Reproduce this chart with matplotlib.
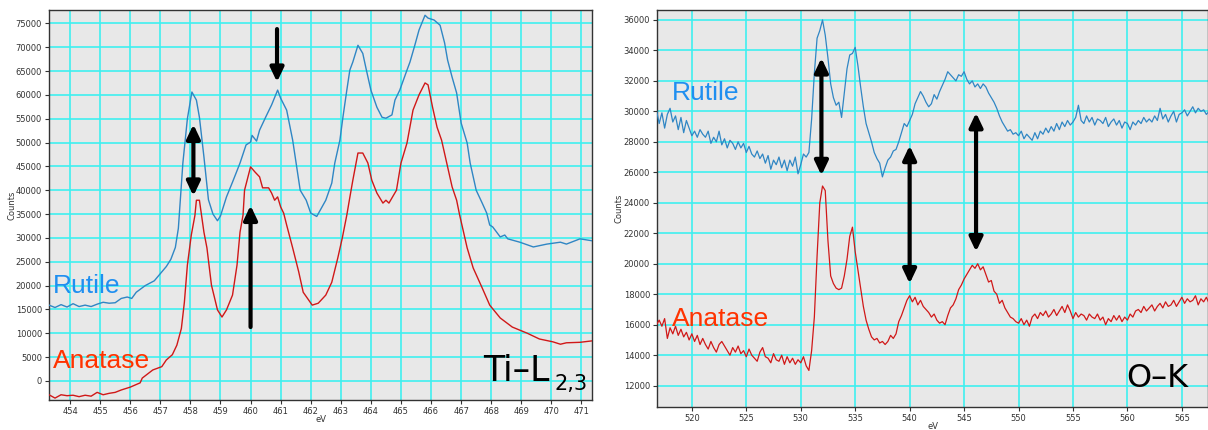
import numpy as np
import matplotlib
matplotlib.use("Agg")
import matplotlib.pyplot as plt

# --- Ti-L2,3 edge (left panel) ---
ti_rutile_ev = [453.3, 453.5, 453.7, 453.9, 454.1, 454.3, 454.5, 454.7, 454.9, 455.1, 455.3, 455.5,
                455.7, 455.9, 456.05, 456.2, 456.5, 456.8, 457.0, 457.2, 457.35, 457.5, 457.6, 457.75,
                457.9, 458.05, 458.2, 458.3, 458.45, 458.6, 458.75, 458.9, 459.0, 459.2, 459.4, 459.65,
                459.85, 460.0, 460.05, 460.2, 460.3, 460.5, 460.7, 460.9, 461.0, 461.2, 461.4, 461.6,
                461.65, 461.85, 462.0, 462.2, 462.5, 462.7, 462.8, 462.97, 463.07, 463.2, 463.3, 463.4,
                463.57, 463.73, 463.85, 464.0, 464.2, 464.37, 464.5, 464.7, 464.8, 464.96, 465.2, 465.3,
                465.46, 465.6, 465.8, 465.9, 466.1, 466.3, 466.45, 466.55, 466.7, 466.85, 467.0, 467.2,
                467.3, 467.5, 467.7, 467.85, 467.95, 468.05, 468.3, 468.45, 468.55, 468.95, 469.4, 469.85,
                470.3, 470.5, 470.95, 471.35]
ti_rutile_counts = [15900, 15400, 16000, 15500, 16200, 15600, 15900, 15600, 16100, 16500, 16300, 16400,
                    17300, 17600, 17300, 18600, 20000, 21000, 22500, 24000, 25500, 28000, 32000, 45700,
                    55000, 60600, 58900, 55300, 47000, 38000, 35000, 33600, 34600, 38600, 41700, 45700,
                    49500, 50100, 51500, 50300, 52600, 55300, 57900, 61000, 59300, 56800, 50500, 42100,
                    40000, 37900, 35200, 34500, 37900, 41500, 45700, 50500, 55300, 61000, 65200, 66900,
                    70400, 68700, 65200, 61000, 57400, 55300, 55100, 55800, 58900, 61000, 65200, 66900,
                    70400, 73600, 76700, 76100, 75700, 74600, 70900, 67300, 63700, 60400, 54100, 49900,
                    45700, 40000, 37300, 35200, 32700, 32300, 30200, 30600, 29800, 29100, 28100, 28700,
                    29100, 28700, 29800, 29400]

ti_anatase_ev = [453.3, 453.5, 453.7, 453.9, 454.1, 454.3, 454.5, 454.7, 454.9, 455.1, 455.3, 455.5,
                 455.7, 456.0, 456.33, 456.4, 456.75, 457.05, 457.2, 457.4, 457.55, 457.7, 457.8, 457.9,
                 458.03, 458.15, 458.2, 458.3, 458.45, 458.55, 458.7, 458.9, 459.05, 459.2, 459.4, 459.55,
                 459.65, 459.75, 459.8, 460.0, 460.15, 460.3, 460.4, 460.6, 460.7, 460.8, 460.9, 461.0,
                 461.1, 461.2, 461.4, 461.6, 461.75, 462.05, 462.25, 462.5, 462.7, 462.9, 463.05, 463.2,
                 463.3, 463.4, 463.57, 463.73, 463.9, 464.03, 464.2, 464.4, 464.5, 464.6, 464.85, 465.0,
                 465.2, 465.4, 465.6, 465.8, 465.9, 466.05, 466.2, 466.35, 466.5, 466.7, 466.85, 466.95,
                 467.2, 467.4, 467.7, 467.95, 468.3, 468.7, 469.2, 469.6, 470.05, 470.3, 470.5, 470.95,
                 471.35]
ti_anatase_counts = [-2900, -3600, -2900, -3100, -3000, -3300, -3000, -3200, -2400, -2900, -2600, -2400,
                     -1900, -1300, -400, 600, 2300, 3000, 4400, 5500, 7500, 11000, 16500, 24300,
                     30600, 34700, 37900, 37900, 31200, 27900, 20100, 14900, 13400, 14900, 18000, 24300,
                     31200, 34800, 40000, 44900, 43800, 42800, 40500, 40500, 39400, 37900, 38600, 36500,
                     35200, 32700, 27900, 22900, 18600, 15900, 16300, 18000, 20700, 25800, 30000, 34800,
                     38500, 42100, 47800, 47800, 45700, 42100, 39400, 37300, 37900, 37300, 40000, 45700,
                     49900, 56800, 60000, 62500, 62100, 57400, 53200, 50500, 46300, 40700, 37900, 34800,
                     27900, 23700, 19500, 15900, 13200, 11300, 10000, 8800, 8200, 7700, 8000, 8100,
                     8400]

# --- O-K edge (right panel), sampled every 0.25 eV from 516.75 eV ---
ok_rutile_counts = [30100,
                    29200, 29900, 28900, 29800, 30200, 29300, 29700, 28800,
                    29600, 28600, 29400, 28900, 28400, 28700, 28300, 28800,
                    28500, 28300, 28700, 27900, 28300, 28000, 28700, 27800,
                    28200, 27600, 28100, 27900, 27500, 28000, 27600, 27900,
                    27300, 27700, 27200, 27000, 27400, 26900, 27200, 26600,
                    27100, 26200, 26800, 26500, 27000, 26300, 26800, 26100,
                    26800, 26400, 27000, 25900, 26500, 27200, 27000, 27300,
                    29500, 32500, 34800, 35300, 36000, 35000, 33500, 31800,
                    30900, 30400, 30600, 29600, 31200, 32800, 33700, 33800,
                    34200, 33000, 31600, 30300, 29200, 28600, 28000, 27300,
                    26900, 26600, 25700, 26300, 26800, 27000, 27400, 27500,
                    28000, 28600, 29200, 29000, 29400, 29800, 30500, 30900,
                    31300, 31000, 30600, 30300, 30500, 31100, 30800, 31300,
                    31700, 32100, 32600, 32400, 32200, 32000, 32400, 32300,
                    32600, 32100, 31800, 32000, 31600, 31800, 31500, 31800,
                    31600, 31200, 30900, 30600, 30200, 29700, 29300, 29000,
                    28700, 28800, 28500, 28600, 28400, 28700, 28200, 28500,
                    28300, 28100, 28600, 28200, 28700, 28500, 28900, 28600,
                    29000, 28700, 29200, 28800, 29300, 29000, 29400, 29100,
                    29300, 29600, 30400, 29400, 29200, 29700, 29300, 29600,
                    29100, 29500, 29400, 29200, 29600, 29000, 29300, 29500,
                    29100, 29400, 28900, 29300, 29200, 28800, 29300, 29100,
                    29400, 29200, 29600, 29300, 29500, 29300, 29700, 29400,
                    30200, 29500, 29800, 29300, 29700, 30000, 29300, 29800,
                    29900, 30100, 29700, 30000, 30300, 29900, 30200, 30000,
                    30100, 29800, 30000]

ok_anatase_counts = [16000,
                     16300, 15900, 16400, 15100, 15800, 15400, 15900, 15300,
                     15700, 15200, 15500, 15000, 15400, 14900, 15300, 14700,
                     15100, 14700, 14400, 14900, 14500, 14200, 14700, 14900,
                     14600, 14300, 14000, 14500, 14200, 14600, 14100, 14300,
                     13900, 14400, 14000, 13800, 13600, 14200, 14500, 13900,
                     13800, 13500, 14100, 13700, 13600, 14000, 13400, 13900,
                     13500, 13800, 13400, 13700, 13500, 13900, 13300, 13000,
                     14300, 16500, 20500, 24000, 25100, 24800, 21500, 19200,
                     18700, 18400, 18300, 18400, 19200, 20300, 21800, 22400,
                     20800, 19600, 18400, 17200, 16300, 15700, 15200, 15000,
                     15100, 14800, 14900, 14700, 14900, 15300, 15100, 15400,
                     16200, 16600, 17100, 17600, 17900, 17500, 17800, 17300,
                     17600, 17200, 17000, 16800, 16500, 16700, 16300, 16100,
                     16200, 16000, 16600, 17100, 17300, 17700, 18300, 18600,
                     19000, 19300, 19600, 19900, 19700, 20000, 19600, 19800,
                     19300, 18800, 18900, 18200, 18000, 17400, 17600, 17100,
                     16800, 16500, 16400, 16200, 16100, 16400, 16000, 16300,
                     15900, 16500, 16700, 16400, 16800, 16600, 16900, 16500,
                     16700, 17000, 16600, 16900, 17200, 16800, 17300, 16900,
                     16400, 16800, 16500, 16700, 16600, 16300, 16700, 16500,
                     16400, 16700, 16300, 16500, 16000, 16400, 16200, 16600,
                     16300, 16600, 16200, 16500, 16300, 16700, 16500, 16900,
                     17000, 16800, 17200, 16900, 17100, 17300, 16900, 17200,
                     17400, 17100, 17500, 17200, 17300, 17600, 17200, 17500,
                     17800, 17400, 17700, 17500, 17600, 17900, 17300, 17700,
                     17500, 17800, 17400]
ok_ev = 516.75 + 0.25 * np.arange(len(ok_rutile_counts))

# arrows (x, y_from, y_to, style)
ti_arrows = [(460.88, 73800, 62700, '-|>'), (458.1, 53800, 38800, '<|-|>'), (460.0, 11300, 36800, '-|>')]
ok_arrows = [(531.9, 33500, 25800, '<|-|>'), (540.0, 27750, 18700, '<|-|>'), (546.1, 29900, 20800, '<|-|>')]

BG = '#e8e8e8'
GRID = '#3ff0f0'
BLUE_LINE = '#2f86c4'
RED_LINE = '#d01818'
BLUE_TXT = '#1f8ff0'
RED_TXT = '#ff3300'

W, H = 1208, 430
fig = plt.figure(figsize=(W / 100, H / 100), dpi=100)
ax1 = fig.add_axes([49 / W, (H - 400) / H, (592 - 49) / W, (400 - 10) / H])
ax2 = fig.add_axes([657 / W, (H - 407) / H, (1208 - 657) / W, (407 - 10) / H])


def style_axes(ax, xticks, yticks):
    ax.set_facecolor(BG)
    ax.set_xticks(xticks)
    ax.set_yticks(yticks)
    ax.grid(True, color=GRID, lw=1.2, zorder=0)
    ax.set_axisbelow(True)
    ax.tick_params(labelsize=6, colors='#333333', length=3, width=0.8, pad=2)
    for s in ax.spines.values():
        s.set_color('#333333')
        s.set_linewidth(1.0)
    ax.set_xlabel('eV', fontsize=6, color='#333333', va='center')
    ax.set_ylabel('Counts', fontsize=6, color='#333333', va='center')


def draw_arrows(ax, arrows):
    for x, y0, y1, style in arrows:
        ax.annotate('', xy=(x, y1), xytext=(x, y0),
                    arrowprops=dict(arrowstyle=style + ',head_length=0.42,head_width=0.2',
                                    mutation_scale=20, lw=3, color='black',
                                    shrinkA=0, shrinkB=0), zorder=5)


# left panel
ax1.plot(ti_rutile_ev, ti_rutile_counts, color=BLUE_LINE, lw=1.0, zorder=3)
ax1.plot(ti_anatase_ev, ti_anatase_counts, color=RED_LINE, lw=1.0, zorder=3)
ax1.set_xlim(453.3, 471.35)
ax1.set_ylim(-4000, 77800)
style_axes(ax1, np.arange(454, 472, 1), np.arange(0, 80000, 5000))
ax1.yaxis.set_label_coords(-0.068, 0.5)
ax1.xaxis.set_label_coords(0.5, -0.049)
draw_arrows(ax1, ti_arrows)
ax1.text(453.43, 18400, 'Rutile', color=BLUE_TXT, fontsize=19, family='Liberation Sans', va='baseline')
ax1.text(453.43, 2700, 'Anatase', color=RED_TXT, fontsize=19, family='Liberation Sans', va='baseline')
ax1.text(467.72, 0, 'Ti\u2013L', color='black', fontsize=25, va='baseline')
ax1.text(470.11, -1900, '2,3', color='black', fontsize=15, va='baseline')

# right panel
ax2.plot(ok_ev, ok_rutile_counts, color=BLUE_LINE, lw=0.9, zorder=3)
ax2.plot(ok_ev, ok_anatase_counts, color=RED_LINE, lw=0.9, zorder=3)
ax2.set_xlim(516.8, 567.4)
ax2.set_ylim(10600, 36650)
style_axes(ax2, np.arange(520, 570, 5), np.arange(12000, 37000, 2000))
ax2.yaxis.set_label_coords(-0.069, 0.5)
ax2.xaxis.set_label_coords(0.5, -0.05)
draw_arrows(ax2, ok_arrows)
ax2.text(518.16, 30720, 'Rutile', color=BLUE_TXT, fontsize=19, family='Liberation Sans', va='baseline')
ax2.text(518.16, 15930, 'Anatase', color=RED_TXT, fontsize=19, family='Liberation Sans', va='baseline')
ax2.text(559.93, 11900, 'O\u2013K', color='black', fontsize=23, va='baseline')

fig.savefig('out.png', dpi=100, facecolor='white')
